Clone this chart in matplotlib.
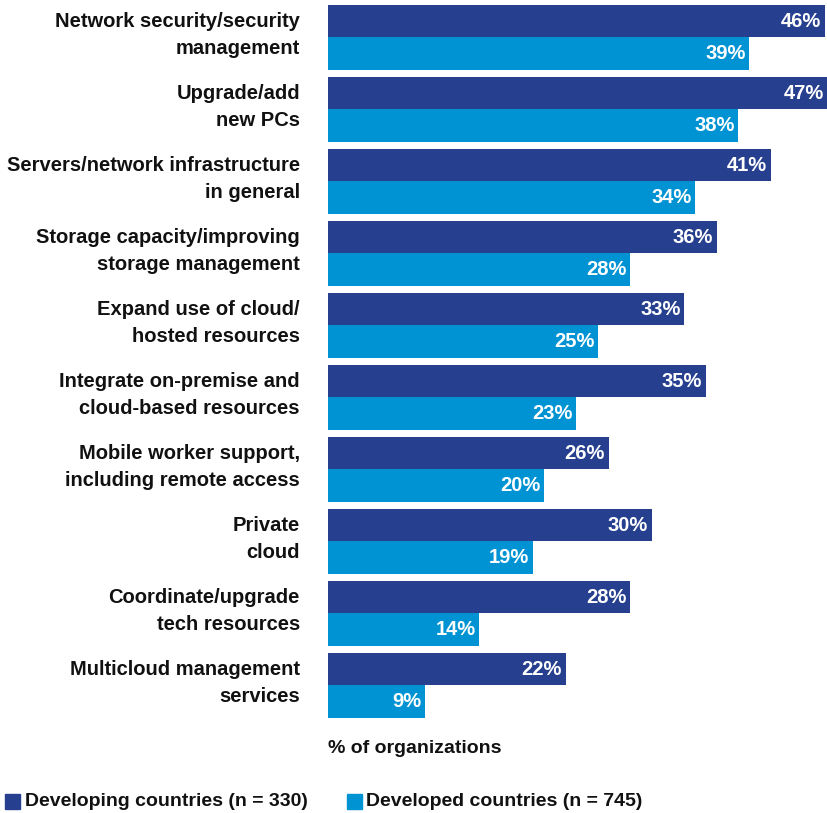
import matplotlib.pyplot as plt
import numpy as np

categories = [
    "Network security/security\nmanagement",
    "Upgrade/add\nnew PCs",
    "Servers/network infrastructure\nin general",
    "Storage capacity/improving\nstorage management",
    "Expand use of cloud/\nhosted resources",
    "Integrate on-premise and\ncloud-based resources",
    "Mobile worker support,\nincluding remote access",
    "Private\ncloud",
    "Coordinate/upgrade\ntech resources",
    "Multicloud management\nservices",
]
developing = [46, 47, 41, 36, 33, 35, 26, 30, 28, 22]
developed = [39, 38, 34, 28, 25, 23, 20, 19, 14, 9]

dark = "#263f8f"
light = "#0093d3"

plt.rcParams['font.family'] = ['Liberation Sans', 'DejaVu Sans']

W, H = 828, 813
fig = plt.figure(figsize=(W / 100, H / 100), dpi=100)
ax = fig.add_axes([328 / W, 1 - 720 / H, 1 - 328 / W, (720 - 5) / H])

y = np.arange(len(categories))
h = 0.455
xmax = 500 / 10.8
ax.barh(y - h / 2, developing, height=h, color=dark)
ax.barh(y + h / 2, developed, height=h, color=light)

ax.set_xlim(0, xmax)
ax.set_ylim(9.48, -0.45)
ax.axis("off")

for i, (a, b) in enumerate(zip(developing, developed)):
    ax.text(min(a, xmax) - 0.35, i - h / 2, f"{a}%", color="white", fontsize=14.5,
            fontweight="bold", ha="right", va="center")
    ax.text(b - 0.35, i + h / 2, f"{b}%", color="white", fontsize=14.5,
            fontweight="bold", ha="right", va="center")
    ax.text(-2.6, i - 0.03, categories[i], ha="right", va="center",
            fontsize=14.5, fontweight="bold", color="#111111", linespacing=1.55)

fig.text(328 / W, 1 - 748 / H, "% of organizations", fontsize=14,
         fontweight="bold", color="#111111", va="center", ha="left")

# legend
fig.patches.append(plt.Rectangle((5 / W, 1 - 809 / H), 15 / W, 15 / H,
                                 transform=fig.transFigure, color=dark))
fig.text(25 / W, 1 - 801 / H, "Developing countries (n = 330)", fontsize=14,
         fontweight="bold", color="#111111", va="center")
fig.patches.append(plt.Rectangle((347 / W, 1 - 809 / H), 15 / W, 15 / H,
                                 transform=fig.transFigure, color=light))
fig.text(366 / W, 1 - 801 / H, "Developed countries (n = 745)", fontsize=14,
         fontweight="bold", color="#111111", va="center")

fig.savefig("out.png", dpi=100)
